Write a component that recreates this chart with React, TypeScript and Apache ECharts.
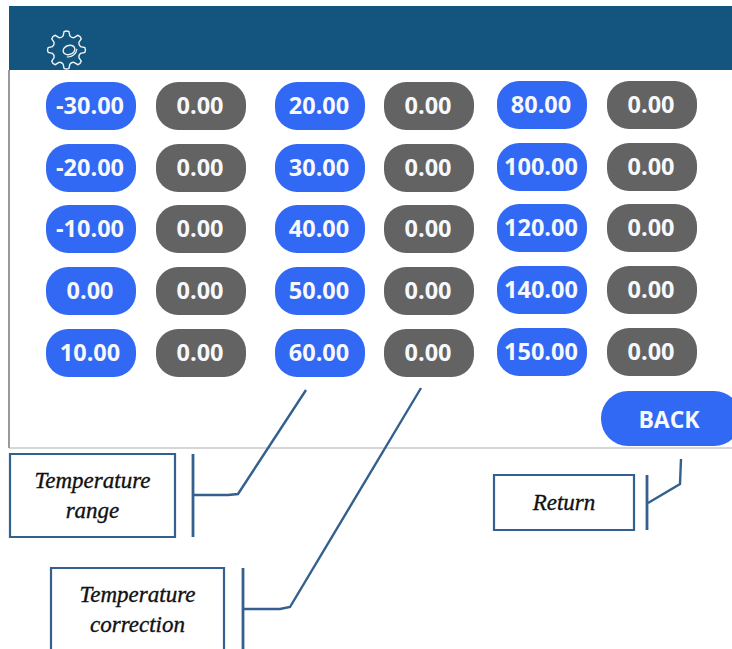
import React, { useEffect, useRef } from "react";
import * as echarts from "echarts";

const rangeColumnA = ["-30.00", "-20.00", "-10.00", "0.00", "10.00"];
const correctionColumnA = ["0.00", "0.00", "0.00", "0.00", "0.00"];
const rangeColumnB = ["20.00", "30.00", "40.00", "50.00", "60.00"];
const correctionColumnB = ["0.00", "0.00", "0.00", "0.00", "0.00"];
const rangeColumnC = ["80.00", "100.00", "120.00", "140.00", "150.00"];
const correctionColumnC = ["0.00", "0.00", "0.00", "0.00", "0.00"];
const backLabel = "BACK";
const rangeCaption = ["Temperature", "range"];
const correctionCaption = ["Temperature", "correction"];
const returnCaption = ["Return"];

const BLUE = "#3269f4";
const GREY = "#636363";
const HEADER = "#14557f";
const INK = "#34608f";
const SANS = "'Open Sans', 'Noto Sans', sans-serif";
const SERIF = "'Liberation Serif', serif";

function gearPath(cx: number, cy: number, rOut: number, rIn: number, teeth: number) {
  const pts: string[] = [];
  const step = (Math.PI * 2) / teeth;
  const p = (r: number, a: number) =>
    `${(cx + r * Math.cos(a)).toFixed(2)} ${(cy + r * Math.sin(a)).toFixed(2)}`;
  for (let i = 0; i < teeth; i++) {
    const a = i * step - Math.PI / 2;
    const next = a + step;
    pts.push(`${i === 0 ? "M" : "L"}${p(rOut, a - step * 0.17)}`);
    pts.push(`Q${p(rOut + 1.2, a)} ${p(rOut, a + step * 0.17)}`);
    pts.push(`L${p(rIn, a + step * 0.3)}`);
    pts.push(`Q${p(rIn - 1.5, a + step * 0.5)} ${p(rIn, next - step * 0.3)}`);
  }
  return pts.join(" ") + " Z";
}

echarts.graphic.registerShape("gearIcon", echarts.graphic.extendPath(gearPath(66.5, 50, 18.5, 14.5, 8), {}) as any);

function pill(x0: number, y0: number, w: number, h: number, label: string, fill: string, size = 23.5) {
  return {
    type: "group",
    children: [
      { type: "rect", shape: { x: x0, y: y0, width: w, height: h, r: 22 }, style: { fill } },
      {
        type: "text",
        x: x0 + w / 2 - 1,
        y: y0 + h / 2 - 1,
        style: { text: label, fill: "#f6f8fb", font: `700 ${size}px ${SANS}`, align: "center", verticalAlign: "middle" },
      },
    ],
  };
}

function callout(box: number[], barX: number, barY: number[], leader: number[][], lines: string[], lineYs: number[]) {
  return [
    { type: "rect", shape: { x: box[0], y: box[1], width: box[2], height: box[3] }, style: { fill: "#fff", stroke: INK, lineWidth: 2.2 } },
    { type: "line", shape: { x1: barX, y1: barY[0], x2: barX, y2: barY[1] }, style: { stroke: INK, lineWidth: 2.8 } },
    { type: "polyline", shape: { points: leader }, style: { stroke: INK, lineWidth: 2.4, fill: "none" } },
    ...lines.map((t, i) => ({
      type: "text",
      x: box[0] + box[2] / 2,
      y: lineYs[i],
      style: { text: t, fill: "#111", stroke: "#111", lineWidth: 0.35, font: `italic 23px ${SERIF}`, align: "center", verticalAlign: "middle" },
    })),
  ];
}

export default function App() {
  const ref = useRef<HTMLDivElement>(null);
  useEffect(() => {
    const chart = echarts.init(ref.current!, undefined, { renderer: "svg" });
    const colW = 90;
    const pillH = 48;
    const leftRows = [82, 144, 205, 267, 329];
    const rightRows = [81, 143, 204, 266, 328];
    const columns: [string[], number, string, number[]][] = [
      [rangeColumnA, 46, BLUE, leftRows],
      [correctionColumnA, 156, GREY, leftRows],
      [rangeColumnB, 275, BLUE, leftRows],
      [correctionColumnB, 384, GREY, leftRows],
      [rangeColumnC, 497, BLUE, rightRows],
      [correctionColumnC, 607, GREY, rightRows],
    ];
    const pills = columns.flatMap(([vals, x, color, rows]) =>
      vals.map((v, i) => pill(x, rows[i], colW, pillH, v, color))
    );

    chart.setOption({
      animation: false,
      backgroundColor: "#ffffff",
      graphic: {
        elements: [
          { type: "line", shape: { x1: 9, y1: 70, x2: 9, y2: 448 }, style: { stroke: "#808080", lineWidth: 1.6 } },
          { type: "line", shape: { x1: 9, y1: 448, x2: 732, y2: 448 }, style: { stroke: "#aeaeae", lineWidth: 1.2 } },
          { type: "rect", shape: { x: 9, y: 6, width: 723, height: 64 }, style: { fill: HEADER } },
          { type: "gearIcon", style: { fill: "none", stroke: "#eef4f8", lineWidth: 1.4 } },
          { type: "ellipse", shape: { cx: 69, cy: 50, rx: 6, ry: 4.5 }, rotation: 0.35, originX: 69, originY: 50, style: { fill: "none", stroke: "#eef4f8", lineWidth: 1.4 } },
          { type: "arc", shape: { cx: 68, cy: 48, r: 9, startAngle: 0.1, endAngle: 1.7 }, style: { fill: "none", stroke: "#eef4f8", lineWidth: 1.2 } },
          ...pills,
          { type: "rect", shape: { x: 601, y: 391, width: 140, height: 55, r: 27 }, style: { fill: BLUE } },
          { type: "text", x: 669, y: 419, style: { text: backLabel, fill: "#f6f8fb", font: `700 23px ${SANS}`, align: "center", verticalAlign: "middle" } },
          ...callout([10, 454, 165, 83], 193, [454, 537], [[194, 495], [228, 495], [238, 494], [306, 390]], rangeCaption, [480, 510]),
          ...callout([51, 568, 173, 90], 243, [568, 649], [[244, 609], [280, 609], [290, 607], [421, 388]], correctionCaption, [594, 624]),
          ...callout([494, 475, 140, 55], 647, [475, 530], [[648, 503], [680, 484], [681, 459]], returnCaption, [502]),
        ],
      },
    });
    return () => chart.dispose();
  }, []);
  return <div ref={ref} style={{ position: "absolute", left: 0, top: 0, width: 732, height: 649 }} />;
}
